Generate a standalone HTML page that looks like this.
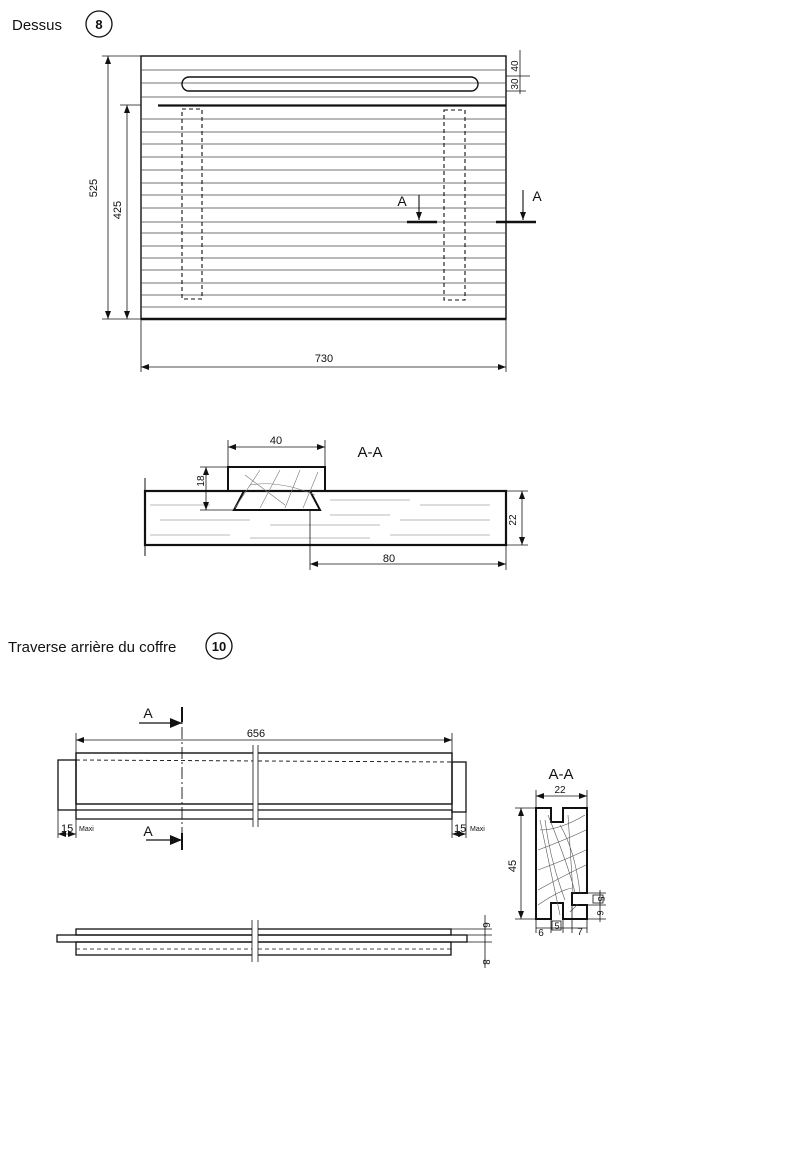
<!DOCTYPE html>
<html><head><meta charset="utf-8"><style>
html,body{margin:0;padding:0;background:#fff;}
svg{display:block;}
text{font-family:"Liberation Sans",sans-serif;fill:#111;}
</style></head><body>
<svg width="812" height="1150" viewBox="0 0 812 1150" xmlns="http://www.w3.org/2000/svg">
<defs>
<marker id="ar" markerWidth="8" markerHeight="6" refX="8" refY="3" orient="auto-start-reverse" markerUnits="userSpaceOnUse"><path d="M0,0 L8,3 L0,6 z" fill="#111"/></marker>
<marker id="big" markerWidth="12" markerHeight="10" refX="12" refY="5" orient="auto" markerUnits="userSpaceOnUse"><path d="M0,0 L12,5 L0,10 z" fill="#111"/></marker>
</defs>
<g stroke="#111" fill="none">
<!-- Titles -->
<circle cx="99" cy="24" r="13" stroke-width="1.3"/>
<circle cx="219" cy="646" r="13" stroke-width="1.3"/>

<!-- Top view -->
<rect x="141" y="56" width="365" height="263" stroke-width="1.4"/>
<line x1="141" y1="319" x2="506" y2="319" stroke-width="2.5"/>
<g stroke-width="0.8" stroke="#444">
<line x1="141" y1="70" x2="506" y2="70"/><line x1="141" y1="83" x2="506" y2="83"/><line x1="141" y1="97" x2="506" y2="97"/>
<line x1="141" y1="119" x2="506" y2="119"/><line x1="141" y1="132" x2="506" y2="132"/><line x1="141" y1="144" x2="506" y2="144"/>
<line x1="141" y1="157" x2="506" y2="157"/><line x1="141" y1="170" x2="506" y2="170"/><line x1="141" y1="183" x2="506" y2="183"/>
<line x1="141" y1="195" x2="506" y2="195"/><line x1="141" y1="208" x2="506" y2="208"/><line x1="141" y1="222" x2="506" y2="222"/>
<line x1="141" y1="233" x2="506" y2="233"/><line x1="141" y1="246" x2="506" y2="246"/><line x1="141" y1="258" x2="506" y2="258"/>
<line x1="141" y1="270" x2="506" y2="270"/><line x1="141" y1="283" x2="506" y2="283"/><line x1="141" y1="295" x2="506" y2="295"/>
<line x1="141" y1="307" x2="506" y2="307"/>
</g>
<line x1="158" y1="105.5" x2="506" y2="105.5" stroke-width="2.2"/>
<rect x="182" y="77" width="296" height="14" rx="7" stroke-width="1.4"/>
<rect x="182" y="109" width="20" height="190" stroke-dasharray="4,3" stroke-width="1.1"/>
<rect x="444" y="110" width="21" height="190" stroke-dasharray="4,3" stroke-width="1.1"/>
<line x1="407" y1="222" x2="437" y2="222" stroke-width="2.5"/>
<line x1="496" y1="222" x2="536" y2="222" stroke-width="2.5"/>
<line x1="419" y1="195" x2="419" y2="220" stroke-width="1.1" marker-end="url(#ar)"/>
<line x1="523" y1="190" x2="523" y2="220" stroke-width="1.1" marker-end="url(#ar)"/>
<!-- dims -->
<g stroke-width="0.8">
<line x1="102" y1="56" x2="141" y2="56"/><line x1="102" y1="319" x2="141" y2="319"/><line x1="120" y1="105" x2="141" y2="105"/>
<line x1="108" y1="56" x2="108" y2="319" marker-start="url(#ar)" marker-end="url(#ar)"/>
<line x1="127" y1="105" x2="127" y2="319" marker-start="url(#ar)" marker-end="url(#ar)"/>
<line x1="141" y1="319" x2="141" y2="372"/><line x1="506" y1="319" x2="506" y2="372"/>
<line x1="141" y1="367" x2="506" y2="367" marker-start="url(#ar)" marker-end="url(#ar)"/>
<line x1="520" y1="50" x2="520" y2="94"/>
<line x1="506" y1="76" x2="530" y2="76"/><line x1="506" y1="91" x2="526" y2="91"/>
</g>

<!-- Section A-A top -->
<rect x="145" y="491" width="361" height="54" stroke-width="2.2"/>
<line x1="145" y1="478" x2="145" y2="556" stroke-width="1"/>
<path d="M228,491 V467 H325 V491 H310 L320,510 H234 L244,491 Z" stroke-width="2"/>
<g stroke="#777" stroke-width="0.6">
<path d="M245,475 l40,30 M260,470 l-25,38 M280,470 l-20,38 M300,470 l-15,38 M318,472 l-15,36 M250,485 Q280,480 315,495"/>
<path d="M150,505 h60 M330,500 h80 M420,505 h70 M160,520 h90 M270,525 h110 M400,520 h90 M150,535 h80 M250,538 h120 M390,535 h100 M330,515 h60"/>
</g>
<g stroke-width="0.8">
<line x1="228" y1="440" x2="228" y2="467"/><line x1="325" y1="440" x2="325" y2="467"/>
<line x1="228" y1="447" x2="325" y2="447" marker-start="url(#ar)" marker-end="url(#ar)"/>
<line x1="200" y1="467" x2="228" y2="467"/><line x1="200" y1="510" x2="234" y2="510"/>
<line x1="206" y1="467" x2="206" y2="510" marker-start="url(#ar)" marker-end="url(#ar)"/>
<line x1="506" y1="491" x2="528" y2="491"/><line x1="506" y1="545" x2="528" y2="545"/>
<line x1="522" y1="491" x2="522" y2="545" marker-start="url(#ar)" marker-end="url(#ar)"/>
<line x1="310" y1="510" x2="310" y2="570"/><line x1="506" y1="545" x2="506" y2="570"/>
<line x1="310" y1="564" x2="506" y2="564" marker-start="url(#ar)" marker-end="url(#ar)"/>
</g>

<!-- Front view traverse -->
<rect x="76" y="753" width="376" height="51" stroke-width="1.4"/>
<rect x="58" y="760" width="18" height="50" stroke-width="1.3"/>
<rect x="452" y="762" width="14" height="50" stroke-width="1.3"/>
<line x1="76" y1="810" x2="452" y2="810" stroke-width="1.3"/>
<path d="M76,810 V819 H452 V810" stroke-width="1.3"/>
<line x1="76" y1="760" x2="452" y2="762" stroke-width="0.9" stroke-dasharray="4,3"/>
<rect x="253" y="745" width="5" height="82" fill="#fff" stroke="none"/>
<line x1="253" y1="745" x2="253" y2="827" stroke-width="0.8"/><line x1="258" y1="745" x2="258" y2="827" stroke-width="0.8"/>
<line x1="182" y1="707" x2="182" y2="850" stroke-width="0.9" stroke-dasharray="12,3,2,3"/>
<line x1="182" y1="707" x2="182" y2="722" stroke-width="2"/><line x1="182" y1="833" x2="182" y2="850" stroke-width="2"/>
<line x1="139" y1="723" x2="182" y2="723" stroke-width="1.2" marker-end="url(#big)"/>
<line x1="146" y1="840" x2="182" y2="840" stroke-width="1.2" marker-end="url(#big)"/>
<g stroke-width="0.8">
<line x1="76" y1="733" x2="76" y2="753"/><line x1="452" y1="733" x2="452" y2="753"/>
<line x1="76" y1="740" x2="452" y2="740" marker-start="url(#ar)" marker-end="url(#ar)"/>
<line x1="58" y1="810" x2="58" y2="838"/><line x1="76" y1="819" x2="76" y2="838"/>
<line x1="58" y1="834" x2="76" y2="834" marker-start="url(#ar)" marker-end="url(#ar)"/>
<line x1="452" y1="819" x2="452" y2="838"/><line x1="466" y1="812" x2="466" y2="838"/>
<line x1="452" y1="834" x2="466" y2="834" marker-start="url(#ar)" marker-end="url(#ar)"/>
</g>

<!-- Side view -->
<rect x="76" y="929" width="375" height="6" stroke-width="1.3"/>
<rect x="57" y="935" width="410" height="7" stroke-width="1.3"/>
<rect x="76" y="942" width="375" height="13" stroke-width="1.3"/>
<line x1="76" y1="949" x2="451" y2="949" stroke-width="0.8" stroke-dasharray="4,3"/>
<rect x="252" y="920" width="6" height="42" fill="#fff" stroke="none"/>
<line x1="252" y1="920" x2="252" y2="962" stroke-width="0.8"/><line x1="258" y1="920" x2="258" y2="962" stroke-width="0.8"/>
<g stroke-width="0.8">
<line x1="485" y1="915" x2="485" y2="968"/>
<line x1="451" y1="929" x2="492" y2="929"/><line x1="467" y1="935" x2="492" y2="935"/><line x1="467" y1="942" x2="492" y2="942"/>
</g>

<!-- Section A-A right -->
<path d="M536,808 H551 V822 H563 V808 H587 V893 H572 V905 H587 V919 H563 V903 H551 V919 H536 Z" stroke-width="2"/>
<g stroke="#555" stroke-width="0.6">
<path d="M540,820 l20,95 M545,820 Q550,860 565,900 M540,830 Q560,830 585,815 M538,850 Q565,840 586,830 M538,870 Q565,860 586,850 M538,890 Q565,875 586,865 M538,905 Q560,890 572,888 M548,815 Q570,870 575,893 M560,825 Q575,850 580,893 M568,815 l5,78 M570,912 l8,-8"/>
</g>
<g stroke-width="0.8">
<line x1="536" y1="790" x2="536" y2="808"/><line x1="587" y1="790" x2="587" y2="808"/>
<line x1="536" y1="796" x2="587" y2="796" marker-start="url(#ar)" marker-end="url(#ar)"/>
<line x1="515" y1="808" x2="536" y2="808"/><line x1="515" y1="919" x2="536" y2="919"/>
<line x1="521" y1="808" x2="521" y2="919" marker-start="url(#ar)" marker-end="url(#ar)"/>
<line x1="536" y1="919" x2="536" y2="933"/><line x1="551" y1="919" x2="551" y2="933"/><line x1="563" y1="919" x2="563" y2="933"/>
<line x1="572" y1="905" x2="572" y2="933"/><line x1="587" y1="919" x2="587" y2="933"/>
<line x1="536" y1="928" x2="587" y2="928"/>
<line x1="587" y1="893" x2="606" y2="893"/><line x1="587" y1="905" x2="606" y2="905"/><line x1="587" y1="919" x2="606" y2="919"/>
<line x1="600" y1="890" x2="600" y2="922"/>
<rect x="593" y="895" width="10" height="8"/>
<rect x="552" y="921" width="9" height="9"/>
</g>
</g>

<!-- Text -->
<text x="12" y="30" font-size="15">Dessus</text>
<text x="99" y="29" font-size="13" font-weight="bold" text-anchor="middle">8</text>
<text x="8" y="652" font-size="15">Traverse arrière du coffre</text>
<text x="219" y="651" font-size="13" font-weight="bold" text-anchor="middle">10</text>

<text x="97" y="188" font-size="11" text-anchor="middle" transform="rotate(-90 97 188)">525</text>
<text x="121" y="210" font-size="11" text-anchor="middle" transform="rotate(-90 121 210)">425</text>
<text x="324" y="362" font-size="11" text-anchor="middle">730</text>
<text x="518" y="66" font-size="10" text-anchor="middle" transform="rotate(-90 518 66)">40</text>
<text x="518" y="84" font-size="10" text-anchor="middle" transform="rotate(-90 518 84)">30</text>
<text x="402" y="206" font-size="14" text-anchor="middle">A</text>
<text x="537" y="201" font-size="14" text-anchor="middle">A</text>

<text x="276" y="444" font-size="11" text-anchor="middle">40</text>
<text x="370" y="457" font-size="15" text-anchor="middle">A-A</text>
<text x="204" y="481" font-size="10" text-anchor="middle" transform="rotate(-90 204 481)">18</text>
<text x="516" y="520" font-size="10" text-anchor="middle" transform="rotate(-90 516 520)">22</text>
<text x="389" y="562" font-size="11" text-anchor="middle">80</text>

<text x="148" y="718" font-size="14" text-anchor="middle">A</text>
<text x="148" y="836" font-size="14" text-anchor="middle">A</text>
<text x="256" y="737" font-size="11" text-anchor="middle">656</text>
<text x="61" y="832" font-size="11">15</text>
<text x="79" y="831" font-size="7">Maxi</text>
<text x="454" y="832" font-size="11">15</text>
<text x="470" y="831" font-size="7">Maxi</text>
<text x="483" y="925" font-size="10" text-anchor="middle" transform="rotate(90 483 925)">6</text>
<text x="483" y="962" font-size="10" text-anchor="middle" transform="rotate(90 483 962)">8</text>

<text x="561" y="779" font-size="15" text-anchor="middle">A-A</text>
<text x="560" y="793" font-size="10" text-anchor="middle">22</text>
<text x="516" y="866" font-size="11" text-anchor="middle" transform="rotate(-90 516 866)">45</text>
<text x="541" y="936" font-size="10" text-anchor="middle">6</text>
<text x="557" y="929" font-size="9" text-anchor="middle">5</text>
<text x="580" y="935" font-size="10" text-anchor="middle">7</text>
<text x="598" y="899" font-size="9" text-anchor="middle" transform="rotate(90 598 899)">5</text>
<text x="597" y="913" font-size="9" text-anchor="middle" transform="rotate(90 597 913)">6</text>
</svg>
</body></html>
